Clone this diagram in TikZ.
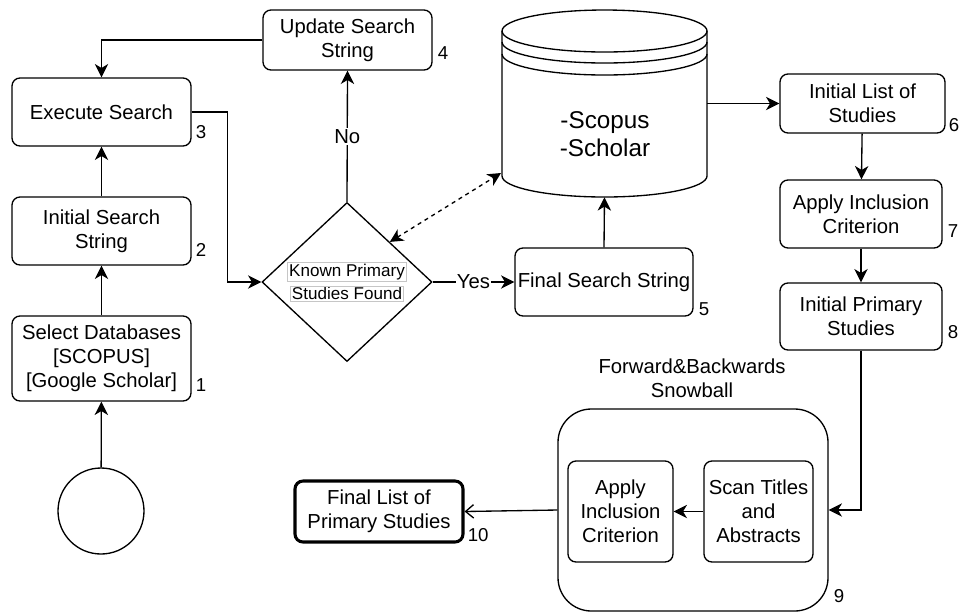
\documentclass[tikz,border=0pt]{standalone}
\usepackage{fontspec}
\setmainfont{Liberation Sans}
\usepackage{tikz}
\usetikzlibrary{positioning}
\usetikzlibrary{shapes.geometric}
\usetikzlibrary{arrows.meta}
\usepackage{xcolor}

\newcommand{\mainfs}{\fontsize{15.2}{18}\selectfont}
\newcommand{\dbfs}{\fontsize{18.2}{21}\selectfont}
\newcommand{\numfs}{\fontsize{14}{16}\selectfont}
\newcommand{\decfs}{\fontsize{12.8}{17.5}\selectfont}
\newcommand{\lblbox}[1]{{\setlength{\fboxsep}{1pt}\setlength{\fboxrule}{0.4pt}\fcolorbox{gray!45}{white}{#1}}}

\begin{document}
\begin{tikzpicture}[
    x=0.75pt, y=-0.75pt,
    box/.style={rectangle, draw, rounded corners=6pt, line width=1pt, align=center, font=\mainfs, inner sep=1pt},
    num/.style={anchor=base west, font=\numfs, inner sep=0pt},
    lbl/.style={fill=white, font=\mainfs, inner sep=1pt},
    ctip/.tip={Stealth[length=10pt, width=10pt, inset=3pt]},
    arrow/.style={line width=1pt, -ctip}
]
    \useasboundingbox (0,0) rectangle (959,612);

    % Left column
    \node[circle, draw, line width=1pt, minimum size=64.5pt, inner sep=0pt] (start) at (101,511) {};
    \node[box, minimum width=134.25pt, minimum height=63.75pt] (sel) at (101.5,358.5) {Select Databases\\{}[SCOPUS]\\{}[Google Scholar]};
    \node[box, minimum width=134.25pt, minimum height=51pt] (iss) at (101.5,231) {Initial Search\\String};
    \node[box, minimum width=134.25pt, minimum height=51pt] (exec) at (101.5,112) {Execute Search};

    % Decision and update
    \node[box, minimum width=126.75pt, minimum height=45pt] (upd) at (347.5,40) {Update Search\\String};
    \node[diamond, draw, line width=1pt, minimum width=127.5pt, minimum height=113.25pt, inner sep=0pt, align=center, font=\decfs] (dec) at (347,282)
        {\lblbox{Known Primary}\\\lblbox{Studies Found}};
    \node[box, minimum width=133.5pt, minimum height=51pt] (fss) at (604,282) {Final Search String};

    % Database cylinder
    \draw[line width=1pt, fill=white] (502,31) -- (502,176)
        arc[start angle=180, end angle=0, x radius=102.5, y radius=21] -- (707,31);
    \draw[line width=1pt] (604.5,31) ellipse [x radius=102.5, y radius=21];
    \draw[line width=1pt] (502,42) arc[start angle=180, end angle=0, x radius=102.5, y radius=21];
    \draw[line width=1pt] (502,54) arc[start angle=180, end angle=0, x radius=102.5, y radius=21];
    \node[rectangle, minimum width=153.75pt, minimum height=140.25pt, inner sep=0pt] (db) at (604.5,103.5) {};
    \node[font=\dbfs, align=center] (dbtext) at (605,134) {-Scopus\\-Scholar};
    \coordinate (dbin) at (501,173);

    % Right column
    \node[box, minimum width=123.75pt, minimum height=44.25pt] (ils) at (862.5,103.5) {Initial List of\\Studies};
    \node[box, minimum width=121.5pt, minimum height=51pt] (aic) at (861,214) {Apply Inclusion\\Criterion};
    \node[box, minimum width=121.5pt, minimum height=50.25pt] (ips) at (861,316.5) {Initial Primary\\Studies};

    % Snowball
    \node[rectangle, draw, rounded corners=25pt, line width=1pt, minimum width=202.5pt, minimum height=151.5pt] (snow) at (693,510) {};
    \node[font=\mainfs, align=center] (snowtitle) at (692,378) {Forward\&Backwards\\Snowball};
    \node[box, minimum width=78.75pt, minimum height=75.75pt] (aic2) at (620.5,511.5) {Apply\\Inclusion\\Criterion};
    \node[box, minimum width=81.75pt, minimum height=75.75pt] (scan) at (758.5,511.5) {Scan Titles\\and\\Abstracts};
    \node[box, line width=2.3pt, minimum width=126pt, minimum height=45.75pt] (fin) at (379,511.5) {Final List of\\Primary Studies};

    % Numbers
    \node[num] (n1) at ([shift={(4,-10)}]sel.south east) {1};
    \node[num] (n2) at ([shift={(4,-9)}]iss.south east) {2};
    \node[num] (n3) at ([shift={(4,-8)}]exec.south east) {3};
    \node[num] (n4) at ([shift={(5,-11)}]upd.south east) {4};
    \node[num] (n5) at ([shift={(5,-1)}]fss.south east) {5};
    \node[num] (n6) at ([shift={(3,-2)}]ils.south east) {6};
    \node[num] (n7) at ([shift={(5,-11)}]aic.south east) {7};
    \node[num] (n8) at ([shift={(5,-12)}]ips.south east) {8};
    \node[num] (n9) at ([shift={(5,-9)}]snow.south east) {9};
    \node[num] (n10) at ([shift={(3,-2)}]fin.south east) {10};

    % Connections
    \draw[arrow] (start) -- (sel);
    \draw[arrow] (sel) -- (iss);
    \draw[arrow] (iss) -- (exec);
    \draw[arrow] (exec.east) -- ++(36,0) |- (dec.west);
    \draw[arrow] (dec.north) -- node[lbl] {No} (upd.south);
    \draw[arrow] (upd.west) -| (exec.north);
    \draw[arrow] (dec.east) -- node[lbl] {Yes} (fss.west);
    \draw[arrow] (fss.north) -- (db.south);
    \draw[line width=1pt, dashed, ctip-ctip] (dec.north east) -- (dbin);
    \draw[arrow] (db.east) -- (ils.west);
    \draw[arrow] (ils) -- (aic);
    \draw[arrow] (aic) -- (ips);
    \draw[arrow] (ips.south) |- (snow.east);
    \draw[arrow] (scan) -- (aic2);
    \draw[line width=1pt, -{Straight Barb[length=6pt, width=10pt]}] (snow.west) -- (fin.east);
\end{tikzpicture}
\end{document}
